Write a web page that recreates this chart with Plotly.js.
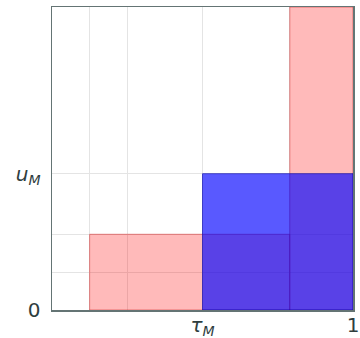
<!DOCTYPE html>
<html>
<head>
<meta charset="utf-8">
<script src="https://cdn.plot.ly/plotly-3.0.1.min.js"></script>
<style>html,body{margin:0;padding:0;background:#fff;}#chart{width:360px;height:338px;}</style>
</head>
<body>
<div id="chart"></div>
<script>
// Rectangles [x0, x1, y0, y1]
var redRectX0 = [0.125, 0.79];
var redRectX1 = [0.79, 1.0];
var redRectY0 = [0.0, 0.0];
var redRectY1 = [0.25, 1.0];
var blueRectX0 = [0.5];
var blueRectX1 = [1.0];
var blueRectY0 = [0.0];
var blueRectY1 = [0.45];

var xTickVals = [0.5, 1.0];
var xTickText = ['<i>τ</i><sub><i>M</i></sub>', '1'];
var xGridVals = [0.125, 0.25, 0.5, 0.79];
var yTickVals = [0, 0.45];
var yTickText = ['0', '<i>u</i><sub><i>M</i></sub>'];
var yGridVals = [0.125, 0.25, 0.45];

function rectTrace(x0, x1, y0, y1, fill, line) {
  return {
    type: 'scatter', mode: 'lines',
    x: [x0, x1, x1, x0, x0], y: [y0, y0, y1, y1, y0],
    fill: 'toself', fillcolor: fill,
    line: {color: line, width: 1},
    hoverinfo: 'skip', showlegend: false
  };
}
var traces = [];
for (var i = 0; i < redRectX0.length; i++) {
  traces.push(rectTrace(redRectX0[i], redRectX1[i], redRectY0[i], redRectY1[i], 'rgba(255,0,0,0.27)', 'rgba(200,0,0,0.4)'));
}
for (var j = 0; j < blueRectX0.length; j++) {
  traces.push(rectTrace(blueRectX0[j], blueRectX1[j], blueRectY0[j], blueRectY1[j], 'rgba(0,0,255,0.65)', 'rgba(0,0,170,0.6)'));
}

var layout = {
  width: 360, height: 338,
  margin: {l: 52, r: 7, t: 7, b: 28},
  paper_bgcolor: '#fff', plot_bgcolor: '#fff',
  font: {family: 'DejaVu Sans', size: 20, color: '#2f3e3e'},
  xaxis: {
    range: [0, 1], tickmode: 'array', tickvals: xTickVals, ticktext: xTickText,
    showgrid: false,
    minor: {tickmode: 'array', tickvals: xGridVals, showgrid: true, gridcolor: '#e4e4e4', gridwidth: 1, ticks: ''},
    zeroline: false, showline: true, mirror: true, linecolor: '#647474', linewidth: 1.5,
    ticks: '', ticklabelstandoff: -4, fixedrange: true
  },
  yaxis: {
    range: [0, 1], tickmode: 'array', tickvals: yTickVals, ticktext: yTickText,
    showgrid: false,
    minor: {tickmode: 'array', tickvals: yGridVals, showgrid: true, gridcolor: '#e4e4e4', gridwidth: 1, ticks: ''},
    zeroline: false, showline: true, mirror: true, linecolor: '#647474', linewidth: 1.5,
    ticks: '', ticklabelstandoff: 6, fixedrange: true
  },
  showlegend: false
};
Plotly.newPlot('chart', traces, layout, {displayModeBar: false, staticPlot: true});
</script>
</body>
</html>
